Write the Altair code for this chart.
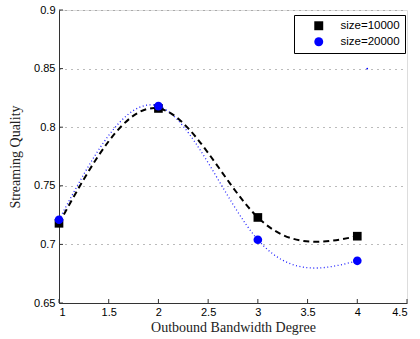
import altair as alt
import pandas as pd

degree = [1, 2, 3, 4]
size10000 = [0.718, 0.816, 0.723, 0.707]
size20000 = [0.721, 0.818, 0.704, 0.686]
series_names = ["size=10000", "size=20000"]
x_ticks = [1, 1.5, 2, 2.5, 3, 3.5, 4, 4.5]
y_ticks = [0.65, 0.7, 0.75, 0.8, 0.85, 0.9]
stray_x = [4.1]
stray_y = [0.85]

W, H = 348, 293

df = pd.DataFrame({
    "degree": degree * 2,
    "quality": size10000 + size20000,
    "series": [series_names[0]] * 4 + [series_names[1]] * 4,
})
xt = pd.DataFrame({"x": x_ticks})
yt = pd.DataFrame({"y": y_ticks})
stray = pd.DataFrame({"x": stray_x, "y": stray_y})

xscale = alt.Scale(domain=[1, 4.5], nice=False, zero=False)
yscale = alt.Scale(domain=[0.65, 0.9], nice=False, zero=False)

xaxis = alt.Axis(values=x_ticks, format="~g", title="Outbound Bandwidth Degree",
                 grid=False, ticks=False, labelFont="Liberation Sans", labelFontSize=11,
                 labelColor="black", titleFont="Liberation Serif", titleFontSize=14,
                 titleFontWeight="normal", titleColor="#222", labelPadding=3, titlePadding=3,
                 domainColor="#333")
yaxis = alt.Axis(values=y_ticks, format=".2~f", title="Streaming Quality",
                 grid=True, gridDash=[1, 5], gridColor="#777", gridWidth=1, ticks=False,
                 labelFont="Liberation Sans", labelFontSize=11, labelColor="black",
                 titleFont="Liberation Serif", titleFontSize=14, titleFontWeight="normal",
                 titleColor="#222", labelPadding=4, titlePadding=11, domainColor="#333")

base = alt.Chart(df)

line1 = base.transform_filter(alt.datum.series == series_names[0]).mark_line(
    interpolate="natural", color="black", strokeDash=[6, 4], strokeWidth=2
).encode(x=alt.X("degree:Q", scale=xscale, axis=xaxis),
         y=alt.Y("quality:Q", scale=yscale, axis=yaxis))

line2 = base.transform_filter(alt.datum.series == series_names[1]).mark_line(
    interpolate="natural", color="#2222ff", strokeDash=[1, 2.5], strokeWidth=1.3
).encode(x=alt.X("degree:Q", scale=xscale), y=alt.Y("quality:Q", scale=yscale))

points = base.mark_point(filled=True, opacity=1, size=75).encode(
    x=alt.X("degree:Q", scale=xscale),
    y=alt.Y("quality:Q", scale=yscale),
    color=alt.Color("series:N", scale=alt.Scale(domain=series_names, range=["black", "#0000ff"]),
                    legend=alt.Legend(title=None, orient="none", legendX=235, legendY=5,
                                      strokeColor="black", fillColor="white", padding=5,
                                      labelFont="Liberation Sans", labelFontSize=11.5,
                                      labelColor="black", symbolSize=80, rowPadding=3,
                                      labelOffset=16, symbolOffset=14, offset=0)),
    shape=alt.Shape("series:N", scale=alt.Scale(domain=series_names, range=["square", "circle"]),
                    legend=None),
)

stray_pt = alt.Chart(stray).mark_point(filled=True, size=3, color="#0000ff", opacity=1).encode(
    x=alt.X("x:Q", scale=xscale), y=alt.Y("y:Q", scale=yscale))

xticks_m = alt.Chart(xt).mark_rule(color="#333", strokeWidth=1).encode(
    x=alt.X("x:Q", scale=xscale), y=alt.value(H), y2=alt.value(H - 4))
yticks_m = alt.Chart(yt).mark_rule(color="#333", strokeWidth=1).encode(
    y=alt.Y("y:Q", scale=yscale), x=alt.value(0), x2=alt.value(4))

chart = alt.layer(line2, line1, xticks_m, yticks_m, points, stray_pt).properties(
    width=W, height=H,
    autosize=alt.AutoSizeParams(type="none"),
    padding={"left": 59, "top": 10, "right": 13, "bottom": 36},
).configure_view(stroke=None).configure(background="white")

chart.save("out.html", embed_options={"renderer": "svg", "actions": False})
